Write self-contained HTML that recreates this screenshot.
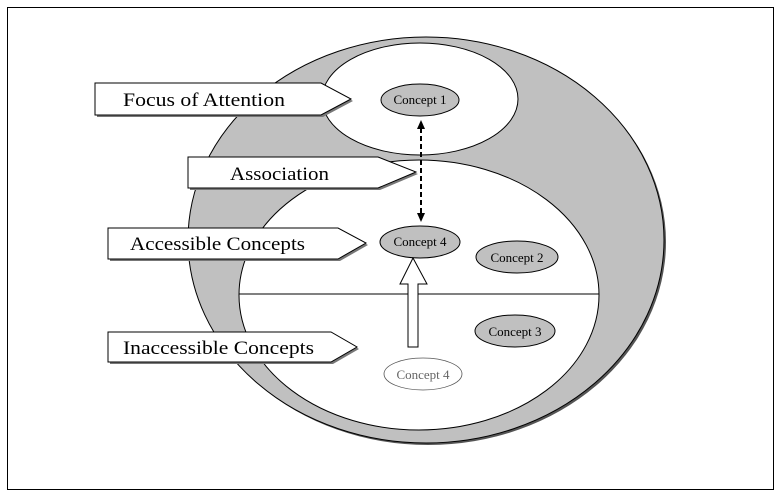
<!DOCTYPE html>
<html><head><style>body{margin:0;background:#fff}svg{display:block}</style></head><body>
<svg width="781" height="495" viewBox="0 0 781 495" font-family="Liberation Serif, serif">
<rect x="7.5" y="7.5" width="766" height="482" fill="#fff" stroke="#000" stroke-width="1"/>
<ellipse cx="428" cy="242" rx="238" ry="203" fill="#555"/>
<ellipse cx="426" cy="240" rx="238" ry="203" fill="#c0c0c0" stroke="#000"/>
<ellipse cx="420" cy="99" rx="98" ry="56" fill="#fff" stroke="#000"/>
<ellipse cx="419" cy="295" rx="180" ry="135" fill="#fff" stroke="#000"/>
<line x1="239" y1="294" x2="599" y2="294" stroke="#000"/>
<g font-size="13" text-anchor="middle">
<ellipse cx="420" cy="100" rx="39" ry="16" fill="#c0c0c0" stroke="#000"/><text x="420" y="104">Concept  1</text>
<ellipse cx="420" cy="242" rx="40" ry="16" fill="#c0c0c0" stroke="#000"/><text x="420" y="246">Concept  4</text>
<ellipse cx="517" cy="257" rx="41" ry="16" fill="#c0c0c0" stroke="#000"/><text x="517" y="262">Concept  2</text>
<ellipse cx="515" cy="331" rx="40" ry="16" fill="#c0c0c0" stroke="#000"/><text x="515" y="336">Concept 3</text>
<ellipse cx="423" cy="374" rx="39" ry="16" fill="#fff" stroke="#555" stroke-width="0.8"/><text x="423" y="379" fill="#666">Concept 4</text>
</g>
<line x1="421" y1="128" x2="421" y2="214" stroke="#000" stroke-width="2" stroke-dasharray="5,3"/>
<polygon points="421,120 417,129 425,129"/>
<polygon points="421,222 417,213 425,213"/>
<polygon points="413,258 400,284 408,284 408,347 418,347 418,284 427,284" fill="#fff" stroke="#000"/>
<g font-size="19">
<polygon points="97,85 323,85 353,101 323,117 97,117" fill="#777"/>
<polygon points="95,83 321,83 351,99 321,115 95,115" fill="#fff" stroke="#000"/>
<text x="123" y="106" textLength="162" lengthAdjust="spacingAndGlyphs">Focus of Attention</text>
<polygon points="190,159 380,159 418,174 380,190 190,190" fill="#777"/>
<polygon points="188,157 378,157 416,172 378,188 188,188" fill="#fff" stroke="#000"/>
<text x="230" y="180" textLength="99" lengthAdjust="spacingAndGlyphs">Association</text>
<polygon points="110,230 340,230 368,245 340,261 110,261" fill="#777"/>
<polygon points="108,228 338,228 366,243 338,259 108,259" fill="#fff" stroke="#000"/>
<text x="130" y="250" textLength="175" lengthAdjust="spacingAndGlyphs">Accessible Concepts</text>
<polygon points="110,334 333,334 359,349 333,364 110,364" fill="#777"/>
<polygon points="108,332 331,332 357,347 331,362 108,362" fill="#fff" stroke="#000"/>
<text x="123" y="354" textLength="191" lengthAdjust="spacingAndGlyphs">Inaccessible Concepts</text>
</g>
</svg>
</body></html>
